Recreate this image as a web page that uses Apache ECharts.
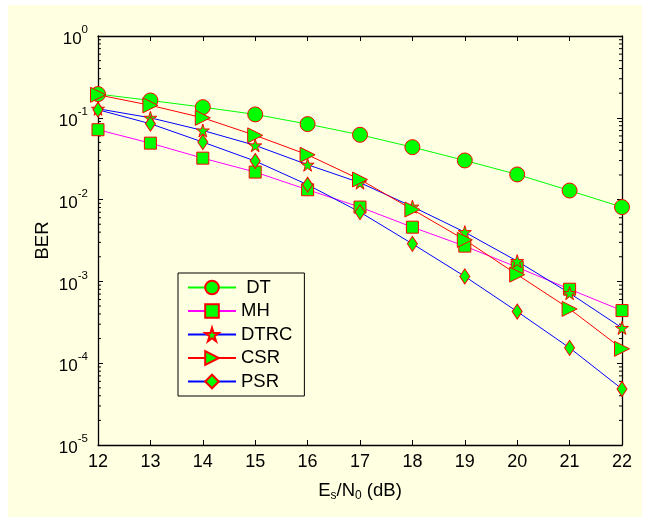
<!DOCTYPE html>
<html>
<head>
<meta charset="utf-8">
<script src="https://cdn.jsdelivr.net/npm/echarts@6/dist/echarts.min.js"></script>
<style>
html,body{margin:0;padding:0;background:#ffffff;}
#wrap{position:absolute;left:8px;top:5px;width:634px;height:512px;background:#FFFFE1;}
#chart{position:absolute;left:0;top:0;width:648px;height:517px;}
</style>
</head>
<body>
<div id="wrap"></div>
<div id="chart"></div>
<script>
const snr = [12, 13, 14, 15, 16, 17, 18, 19, 20, 21, 22];
const seriesNames = ['DT', 'MH', 'DTRC', 'CSR', 'PSR'];
const berDT   = [0.195, 0.163, 0.135, 0.110, 0.0838, 0.062, 0.0438, 0.0301, 0.0203, 0.0129, 0.0081];
const berMH   = [0.0715, 0.049, 0.0321, 0.0217, 0.0132, 0.0081, 0.0046, 0.0027, 0.00149, 0.000803, 0.00044];
const berDTRC = [0.129, 0.100, 0.070, 0.046, 0.0267, 0.0161, 0.0082, 0.0040, 0.00177, 0.000718, 0.00027];
const berCSR  = [0.191, 0.142, 0.100, 0.061, 0.0353, 0.0176, 0.00757, 0.00322, 0.00121, 0.000461, 0.00015];
const berPSR  = [0.1255, 0.0846, 0.0505, 0.0296, 0.0152, 0.00703, 0.00288, 0.00115, 0.000428, 0.000154, 0.0000484];
const yTickExponents = [0, -1, -2, -3, -4, -5];
const minorMultipliers = [2, 3, 4, 5, 6, 7, 8, 9];

const FONT = '"Liberation Sans", Arial, sans-serif';
const starPath = 'path://M50,0 L61,35 L98,35 L68,57 L79,91 L50,70 L21,91 L32,57 L2,35 L39,35 Z';

function pairs(vals) { return snr.map((x, i) => [x, vals[i]]); }

const minorVals = [];
for (let e = -5; e < 0; e++) {
  for (const m of minorMultipliers) minorVals.push(m * Math.pow(10, e));
}

const markerStyle = { color: '#00FF00', borderColor: '#FF0000', borderWidth: 1 };

function lineSeries(name, vals, color, symbol, size, rotate) {
  return {
    name: name, type: 'line', data: pairs(vals),
    symbol: symbol, symbolSize: size, symbolRotate: rotate || 0,
    showAllSymbol: true,
    lineStyle: { color: color, width: 1 },
    itemStyle: markerStyle,
    emphasis: { disabled: true },
    animation: false
  };
}

const chart = echarts.init(document.getElementById('chart'), null, { renderer: 'canvas' });
const option = {
  backgroundColor: 'transparent',
  animation: false,
  textStyle: { fontFamily: FONT },
  grid: { left: 98, right: 26, top: 36, bottom: 72 },
  legend: {
    data: seriesNames,
    orient: 'vertical',
    left: 178, top: 273,
    borderColor: '#000', borderWidth: 1,
    padding: [5, 12, 5, 9],
    itemWidth: 48, itemHeight: 17, itemGap: 4.5,
    formatter: n => (n === 'DT' ? ' DT' : n),
    textStyle: { fontFamily: FONT, fontSize: 18.5, color: '#000', lineHeight: 18 },
    selectedMode: false
  },
  xAxis: [{
    type: 'value', min: 12, max: 22, interval: 1,
    name: '{b|E}{s|s}{b|/N}{s|0}{b| (dB)}',
    nameLocation: 'middle', nameGap: 35,
    nameTextStyle: {
      rich: {
        b: { fontFamily: FONT, fontSize: 18.5, color: '#000', lineHeight: 22 },
        s: { fontFamily: FONT, fontSize: 12, color: '#000', lineHeight: 20, verticalAlign: 'bottom' }
      }
    },
    axisLine: { lineStyle: { color: '#000', width: 1.3 } },
    axisTick: { inside: true, length: 5, lineStyle: { color: '#000' } },
    axisLabel: { fontFamily: FONT, fontSize: 18, color: '#000', margin: 8 },
    splitLine: { show: false }
  }, {
    type: 'value', min: 12, max: 22, interval: 1, position: 'top',
    axisLine: { lineStyle: { color: '#000', width: 1.3 } },
    axisTick: { inside: true, length: 5, lineStyle: { color: '#000' } },
    axisLabel: { show: false },
    splitLine: { show: false }
  }],
  yAxis: [{
    type: 'log', logBase: 10, min: 1e-5, max: 1,
    name: 'BER', nameLocation: 'middle', nameGap: 46, nameMoveOverlap: false,
    nameTextStyle: { fontFamily: FONT, fontSize: 18.5, color: '#000' },
    axisLine: { lineStyle: { color: '#000', width: 1.3 } },
    axisTick: { inside: true, length: 5, lineStyle: { color: '#000' } },
    axisLabel: {
      margin: 10,
      formatter: function (v) {
        const e = Math.round(Math.log10(v));
        return '{b|10}{s|' + e + '}';
      },
      rich: {
        b: { fontFamily: FONT, fontSize: 17, color: '#000', lineHeight: 24, verticalAlign: 'bottom' },
        s: { fontFamily: FONT, fontSize: 11.5, color: '#000', lineHeight: 12, verticalAlign: 'top' }
      }
    },
    splitLine: { show: false }
  }, {
    type: 'log', logBase: 10, min: 1e-5, max: 1, position: 'right',
    axisLine: { lineStyle: { color: '#000', width: 1.3 } },
    axisTick: { inside: true, length: 5, lineStyle: { color: '#000' } },
    axisLabel: { show: false },
    splitLine: { show: false }
  }],
  series: [
    {
      type: 'custom', name: 'minorTicks', silent: true, z: 1,
      xAxisIndex: 0, yAxisIndex: 0,
      data: minorVals.map(v => [12, v]),
      renderItem: function (params, api) {
        const v = api.value(1);
        const pl = api.coord([12, v]);
        const pr = api.coord([22, v]);
        return {
          type: 'group',
          children: [
            { type: 'line', shape: { x1: pl[0], y1: pl[1], x2: pl[0] + 3, y2: pl[1] }, style: { stroke: '#000', lineWidth: 1 } },
            { type: 'line', shape: { x1: pr[0] - 3, y1: pr[1], x2: pr[0], y2: pr[1] }, style: { stroke: '#000', lineWidth: 1 } }
          ]
        };
      }
    },
    lineSeries('DT', berDT, '#00FF00', 'circle', 15),
    lineSeries('MH', berMH, '#FF00FF', 'rect', 12),
    lineSeries('DTRC', berDTRC, '#0000FF', starPath, 13),
    lineSeries('CSR', berCSR, '#FF0000', 'triangle', 15, -90),
    lineSeries('PSR', berPSR, '#0000FF', 'diamond', [10, 15])
  ]
};
chart.setOption(option);
</script>
</body>
</html>
